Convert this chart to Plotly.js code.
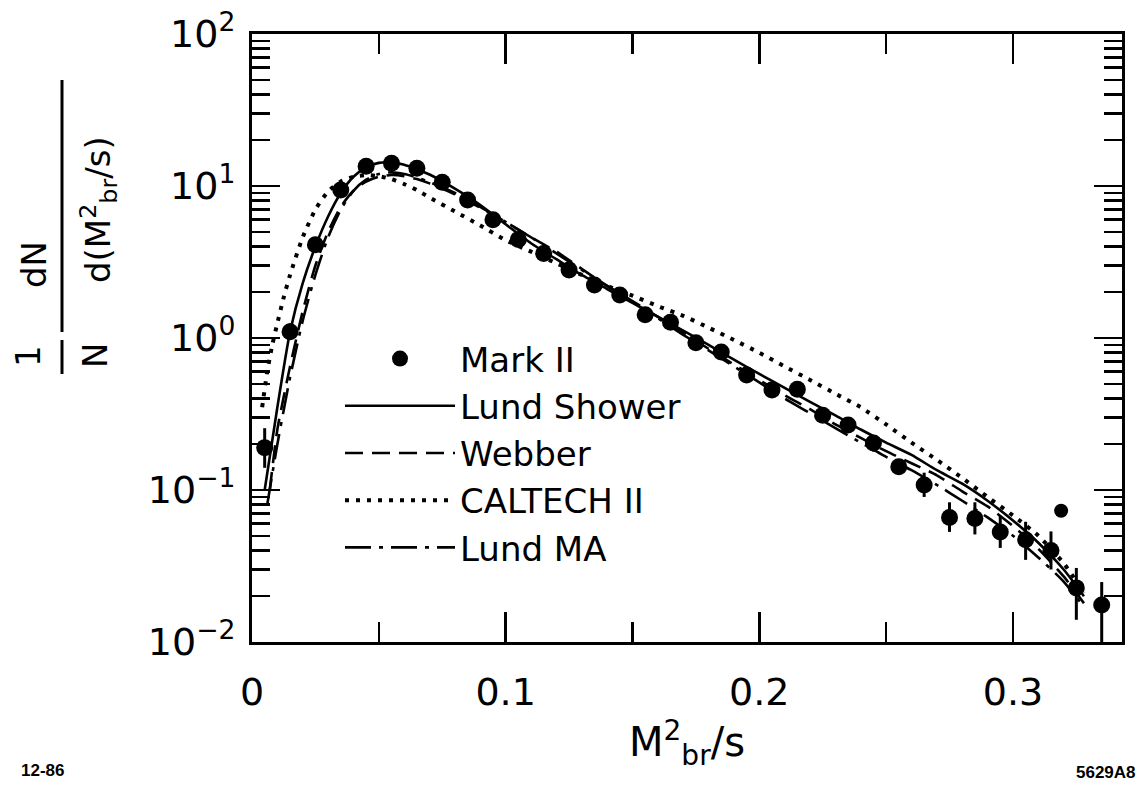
<!DOCTYPE html>
<html>
<head>
<meta charset="utf-8">
<script src="https://cdn.plot.ly/plotly-3.0.1.min.js"></script>
<style>html,body{margin:0;padding:0;background:#fff;}#chart{width:1142px;height:790px;}</style>
</head>
<body>
<div id="chart"></div>
<script>
// ---- Mark II data ----
const markX = [0.005,0.015,0.025,0.035,0.045,0.055,0.065,0.075,0.085,0.095,0.105,0.115,0.125,0.135,0.145,0.155,0.165,0.175,0.185,0.195,0.205,0.215,0.225,0.235,0.245,0.255,0.265,0.275,0.285,0.295,0.305,0.315,0.325,0.335];
const markY = [0.19,1.1,4.1,9.4,13.5,14.1,13.1,10.6,8.1,6.0,4.45,3.6,2.8,2.23,1.92,1.42,1.27,0.93,0.81,0.57,0.455,0.46,0.31,0.268,0.204,0.142,0.108,0.066,0.065,0.053,0.047,0.040,0.0227,0.0175];
const markErrUp = [0.065,0.15,0.3,0.5,0.6,0.6,0.6,0.5,0.4,0.3,0.22,0.18,0.14,0.11,0.1,0.08,0.07,0.05,0.05,0.04,0.035,0.035,0.03,0.028,0.025,0.018,0.022,0.017,0.018,0.0145,0.0148,0.0134,0.008,0.0073];
const markErrDown = [0.05,0.13,0.3,0.5,0.6,0.6,0.6,0.5,0.4,0.3,0.22,0.18,0.14,0.11,0.1,0.08,0.07,0.05,0.05,0.04,0.035,0.035,0.03,0.028,0.025,0.016,0.018,0.013,0.014,0.0114,0.0123,0.010,0.0087,0.0095];

// stray blot near x=0.32
const strayX = [0.319];
const strayY = [0.073];

// ---- Lund Shower (solid) ----
const lundShowerX = [0.005,0.01,0.015,0.02,0.025,0.03,0.035,0.04,0.045,0.05,0.055,0.06,0.065,0.07,0.08,0.09,0.10,0.11,0.12,0.13,0.14,0.15,0.16,0.17,0.18,0.19,0.20,0.21,0.22,0.23,0.24,0.25,0.26,0.27,0.28,0.29,0.30,0.31,0.32,0.328];
const lundShowerY = [0.1,0.35,1.1,2.3,4.0,6.3,9.0,11.5,13.3,14.2,14.3,13.8,12.9,11.9,9.6,7.5,5.6,4.2,3.3,2.6,2.1,1.7,1.38,1.12,0.9,0.72,0.58,0.47,0.38,0.31,0.25,0.205,0.17,0.135,0.11,0.085,0.063,0.045,0.03,0.02];

// ---- Webber (dashed) ----
const webberX = [0.007,0.01,0.015,0.02,0.025,0.03,0.035,0.04,0.045,0.05,0.055,0.06,0.065,0.07,0.08,0.09,0.10,0.11,0.12,0.13,0.14,0.15,0.16,0.17,0.18,0.19,0.20,0.21,0.22,0.23,0.24,0.25,0.26,0.27,0.28,0.29,0.30,0.31,0.32,0.328];
const webberY = [0.1,0.25,0.65,1.5,3.0,5.0,7.3,9.3,10.7,11.5,11.8,11.6,11.1,10.4,8.8,7.2,5.8,4.6,3.7,2.85,2.2,1.75,1.38,1.08,0.85,0.67,0.53,0.42,0.34,0.27,0.22,0.18,0.15,0.125,0.098,0.078,0.058,0.041,0.027,0.018];

// ---- CALTECH II (dotted) ----
const caltechX = [0.004,0.006,0.008,0.01,0.0125,0.015,0.02,0.025,0.03,0.035,0.04,0.045,0.05,0.055,0.06,0.065,0.07,0.08,0.09,0.10,0.11,0.12,0.13,0.14,0.15,0.16,0.17,0.18,0.19,0.20,0.21,0.22,0.23,0.24,0.25,0.26,0.27,0.28,0.29,0.30,0.31,0.32,0.328];
const caltechY = [0.35,0.6,0.9,1.25,1.85,2.6,4.6,7.0,9.2,10.7,11.5,11.8,11.6,11.1,10.3,9.4,8.4,6.8,5.5,4.4,3.7,3.1,2.6,2.2,1.9,1.62,1.4,1.17,0.97,0.8,0.65,0.53,0.43,0.35,0.27,0.205,0.158,0.12,0.09,0.068,0.05,0.033,0.021];

// ---- Lund MA (dash-dot) ----
const lundMAX = [0.006,0.01,0.015,0.02,0.025,0.03,0.035,0.04,0.045,0.05,0.055,0.06,0.065,0.07,0.08,0.09,0.10,0.11,0.12,0.13,0.14,0.15,0.16,0.17,0.18,0.19,0.20,0.21,0.22,0.23,0.24,0.25,0.26,0.27,0.28,0.29,0.30,0.31,0.32,0.328];
const lundMAY = [0.08,0.2,0.55,1.3,2.6,4.6,7.0,9.3,11.0,12.0,12.3,12.0,11.4,10.6,9.0,7.3,5.8,4.6,3.6,2.8,2.2,1.72,1.35,1.05,0.83,0.65,0.51,0.40,0.32,0.255,0.205,0.165,0.135,0.108,0.085,0.066,0.05,0.036,0.025,0.017];

// ---- axis ticks ----
const xMajorTicks = [0, 0.1, 0.2, 0.3];
const xMajorLabels = ['0', '0.1', '0.2', '0.3'];
const xMinorTicks = [0.05, 0.15, 0.25];
const yMajorTicks = [0.01, 0.1, 1, 10, 100];
const yMajorLabels = ['10<sup>\u22122</sup>', '10<sup>\u22121</sup>', '10<sup>0</sup>', '10<sup>1</sup>', '10<sup>2</sup>'];
const yMinorTicks = [];
[0.01, 0.1, 1, 10].forEach(d => { for (let k = 2; k <= 9; k++) yMinorTicks.push(+(d * k).toPrecision(3)); });

const FONT = 'DejaVu Sans, Arial, sans-serif';
const LW = 2.6;

const traces = [
  {
    type: 'scatter', mode: 'markers', name: 'Mark II',
    x: markX, y: markY,
    marker: {color: '#000', size: 17, symbol: 'circle'},
    error_y: {type: 'data', symmetric: false, array: markErrUp, arrayminus: markErrDown, color: '#000', thickness: 3, width: 0}
  },
  {
    type: 'scatter', mode: 'lines', name: 'Lund Shower',
    x: lundShowerX, y: lundShowerY,
    line: {color: '#000', width: LW, shape: 'spline', smoothing: 0.6}
  },
  {
    type: 'scatter', mode: 'lines', name: 'Webber',
    x: webberX, y: webberY,
    line: {color: '#000', width: LW, dash: '18px,9px', shape: 'spline', smoothing: 0.6}
  },
  {
    type: 'scatter', mode: 'lines', name: 'CALTECH II',
    x: caltechX, y: caltechY,
    line: {color: '#000', width: 4, dash: '4px,7px', shape: 'spline', smoothing: 0.6}
  },
  {
    type: 'scatter', mode: 'lines', name: 'Lund MA',
    x: lundMAX, y: lundMAY,
    line: {color: '#000', width: LW, dash: '26px,8px,4px,8px', shape: 'spline', smoothing: 0.6}
  },
  {
    type: 'scatter', mode: 'markers', name: 'blot', showlegend: false, hoverinfo: 'skip',
    x: strayX, y: strayY,
    marker: {color: '#000', size: 14, symbol: 'circle', line: {width: 0}}
  }
];

// helpers to place title pieces in paper coords (plot area: x 252..1122, y 34..642)
const L = 252, R = 20, T = 34, B = 148;
const W = 1142 - L - R, H = 790 - T - B;
const px = v => (v - L) / W;
const py = v => (790 - B - v) / H;

const titleFont = {family: FONT, size: 34, color: '#000'};

const layout = {
  width: 1142, height: 790,
  margin: {l: L, r: R, t: T, b: B},
  paper_bgcolor: '#fff', plot_bgcolor: '#fff',
  font: {family: FONT, color: '#000'},
  showlegend: true,
  legend: {
    x: px(340), y: py(330), xanchor: 'left', yanchor: 'top',
    bgcolor: 'rgba(0,0,0,0)', borderwidth: 0,
    font: {family: FONT, size: 34, color: '#000'},
    itemwidth: 110, tracegroupgap: 0
  },
  xaxis: {
    type: 'linear', range: [0, 0.343],
    showgrid: false, zeroline: false,
    showline: true, linecolor: '#000', linewidth: 3, mirror: 'ticks',
    ticks: 'inside', ticklen: 30, tickwidth: 2.5, tickcolor: '#000',
    tickmode: 'array', tickvals: xMajorTicks, ticktext: xMajorLabels,
    tickfont: {family: FONT, size: 38, color: '#000'},
    ticklabelstandoff: 14,
    minor: {tickmode: 'array', tickvals: xMinorTicks, ticks: 'inside', ticklen: 20, tickwidth: 2.5, tickcolor: '#000', showgrid: false},
    title: {text: 'M<sup>2</sup><sub>br</sub>/s', font: {family: FONT, size: 40, color: '#000'}, standoff: 16}
  },
  yaxis: {
    type: 'log', range: [-2, 2],
    showgrid: false, zeroline: false,
    showline: true, linecolor: '#000', linewidth: 3, mirror: 'ticks',
    ticks: 'inside', ticklen: 28, tickwidth: 2.5, tickcolor: '#000',
    tickmode: 'array', tickvals: yMajorTicks, ticktext: yMajorLabels,
    tickfont: {family: FONT, size: 38, color: '#000'},
    ticklabelstandoff: 6,
    minor: {tickmode: 'array', tickvals: yMinorTicks, ticks: 'inside', ticklen: 18, tickwidth: 2.5, tickcolor: '#000', showgrid: false}
  },
  annotations: [
    {xref: 'paper', yref: 'paper', x: px(28), y: py(356), text: '1', showarrow: false, textangle: -90, font: titleFont, xanchor: 'center', yanchor: 'middle'},
    {xref: 'paper', yref: 'paper', x: px(95), y: py(356), text: 'N', showarrow: false, textangle: -90, font: titleFont, xanchor: 'center', yanchor: 'middle'},
    {xref: 'paper', yref: 'paper', x: px(34), y: py(265), text: 'dN', showarrow: false, textangle: -90, font: titleFont, xanchor: 'center', yanchor: 'middle'},
    {xref: 'paper', yref: 'paper', x: px(98), y: py(210), text: 'd(M<sup>2</sup><sub>br</sub>/s)', showarrow: false, textangle: -90, font: titleFont, xanchor: 'center', yanchor: 'middle'},
    {xref: 'paper', yref: 'paper', x: px(42), y: py(770), text: '<b>12-86</b>', showarrow: false, font: {family: 'Liberation Sans, Arial, sans-serif', size: 17, color: '#000'}, xanchor: 'center', yanchor: 'middle'},
    {xref: 'paper', yref: 'paper', x: px(1106), y: py(772), text: '<b>5629A8</b>', showarrow: false, font: {family: 'Liberation Sans, Arial, sans-serif', size: 17, color: '#000'}, xanchor: 'center', yanchor: 'middle'}
  ],
  shapes: [
    {type: 'line', xref: 'paper', yref: 'paper', x0: px(62), x1: px(62), y0: py(340), y1: py(374), line: {color: '#000', width: 3}},
    {type: 'line', xref: 'paper', yref: 'paper', x0: px(62), x1: px(62), y0: py(80), y1: py(332), line: {color: '#000', width: 3}}
  ]
};

Plotly.newPlot('chart', traces, layout, {displayModeBar: false, staticPlot: true});
</script>
</body>
</html>
